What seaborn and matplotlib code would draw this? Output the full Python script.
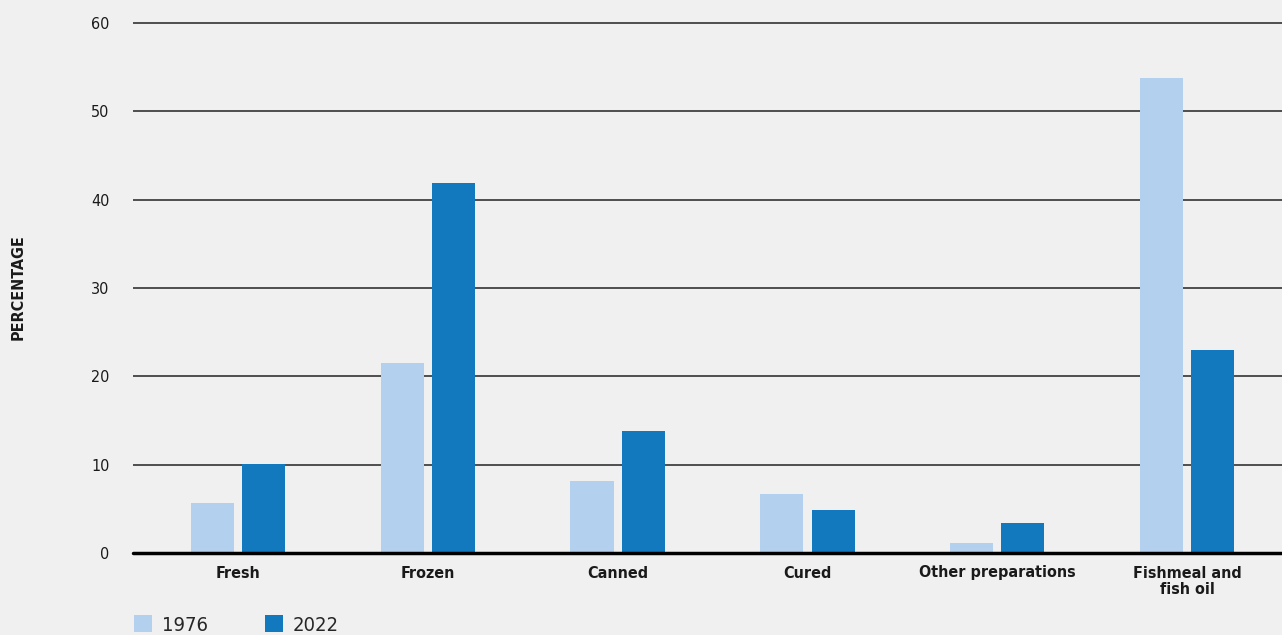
import numpy as np
import pandas as pd
import matplotlib.pyplot as plt
import seaborn as sns

categories = ['Fresh', 'Frozen', 'Canned', 'Cured', 'Other preparations', 'Fishmeal and\nfish oil']
years = ['1976', '2022']
values_1976 = [5.7, 21.5, 8.1, 6.7, 1.1, 53.8]
values_2022 = [10.1, 41.9, 13.8, 4.9, 3.4, 23.0]
yticks = [0, 10, 20, 30, 40, 50, 60]

df = pd.DataFrame({
    'category': categories * 2,
    'year': [years[0]] * 6 + [years[1]] * 6,
    'value': values_1976 + values_2022,
})

sns.set_theme(style='white')
plt.rcParams['font.family'] = ['DejaVu Sans']
plt.rcParams['font.stretch'] = 'condensed'
bg = '#f0f0f0'

fig = plt.figure(figsize=(12.82, 6.35), dpi=100, facecolor=bg)
ax = fig.add_axes([133 / 1282, 82 / 635, 1 - 133 / 1282, (553 - 14.2) / 635])
ax.set_facecolor(bg)

sns.barplot(data=df, x='category', y='value', hue='year', order=categories,
            hue_order=years, palette=['#b3d1ee', '#1279bf'],
            width=0.54, gap=0.16, saturation=1, linewidth=0, ax=ax, legend=True, zorder=3)

ax.set_ylim(0, 61)
ax.set_xlim(-0.553, 5.5)
ax.set_yticks(yticks)
ax.set_yticklabels([str(t) for t in yticks], fontsize=11.5, color='#1a1a1a')
ax.tick_params(axis='y', length=0, pad=17)
ax.tick_params(axis='x', length=0, pad=9)
for lab in ax.get_xticklabels():
    lab.set_fontsize(11.5)
    lab.set_fontweight('bold')
    lab.set_color('#1a1a1a')
    lab.set_linespacing(1.1)

for t in yticks[1:]:
    ax.axhline(t, color='#333333', lw=1.2, zorder=1)
ax.axhline(0, color='black', lw=2.5, zorder=4, clip_on=False)

for s in ax.spines.values():
    s.set_visible(False)

ax.set_xlabel('')
ax.set_ylabel('')
fig.text(18 / 1282, 1 - 287 / 635, 'PERCENTAGE', rotation=90, ha='center', va='center',
         fontsize=11.5, fontweight='bold', color='#1a1a1a')

handles, labels = ax.get_legend_handles_labels()
ax.get_legend().remove()
fig.legend(handles, labels, loc='lower left', bbox_to_anchor=(126 / 1282, -0.012),
           ncol=2, frameon=False, fontsize=14.5, handlelength=0.9, handleheight=0.9,
           handletextpad=0.5, columnspacing=2.8, borderaxespad=0)

fig.savefig('out.png', dpi=100, facecolor=bg)
